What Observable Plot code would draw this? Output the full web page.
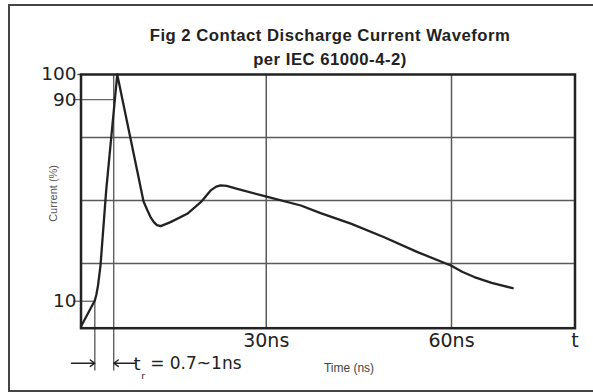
<!DOCTYPE html>
<html>
<head>
<meta charset="utf-8">
<script src="https://cdn.jsdelivr.net/npm/d3@7"></script>
<script src="https://cdn.jsdelivr.net/npm/@observablehq/plot@0.6"></script>
<style>
  html, body { margin: 0; padding: 0; background: #fff; overflow: hidden; }
  #page { position: relative; width: 593px; height: 392px; }
  #border { position: absolute; left: 8px; top: 4px; width: 600px; height: 384px;
            border-top: 2px solid #444; border-left: 2px solid #444; border-bottom: 2px solid #444; }
  #title { position: absolute; left: 67px; top: 24px; width: 526px; text-align: center;
           font-family: "Liberation Sans", Arial, sans-serif; font-weight: bold; font-size: 16.7px;
           letter-spacing: 0.5px; line-height: 23.5px; color: #222; }
  #chart { position: absolute; left: 0; top: 60px; }
  #chart svg { overflow: visible; }
</style>
</head>
<body>
<div id="page">
  <div id="border"></div>
  <div id="title">Fig 2 Contact Discharge Current Waveform<br>per IEC 61000-4-2)</div>
  <div id="chart"></div>
</div>
<script>
// waveform (time in ns, current in % of peak)
const timeNs = [0, 2.24, 2.5, 2.76, 3.16, 4.08, 5.87, 9.05, 10.13, 10.8, 11.26, 11.8, 12.3, 12.9, 14.5, 17.2, 19.4, 21.0, 21.9, 22.6, 23.6, 25.3, 29.9, 35.6, 38.8, 43.7, 49.1, 54.5, 59.9, 61.8, 63.7, 66.5, 69.9];
const currentPct = [0, 10.3, 12.8, 16.3, 24.2, 54, 100, 62.4, 49.6, 45.8, 43.4, 41.4, 40.2, 39.8, 41.4, 44.7, 49.3, 54, 55.5, 56, 55.8, 54.6, 51.6, 48, 45, 40.8, 35.4, 29.5, 24.2, 21.6, 19.6, 17.3, 15.2];

const gridTimes = [30, 60];
const gridLevels = [25, 50, 75];
const yTickValues = [10, 90, 100];
const xTickValues = [30, 60, 80];
const xTickLabels = ["30ns", "60ns", "t"];
const levelMarks = [10, 90];          // 10% and 90% reference levels
const levelTimes = [2.24, 5.3];       // times of 10% and 90% markers (ns)
const yLabel = "Current (%)";
const xLabel = "Time (ns)";
const riseLabel = "= 0.7~1ns";

const wave = timeNs.map((t, i) => ({t, v: currentPct[i]}));
const levels = levelMarks.map((v, i) => ({v, t: levelTimes[i]}));

const lineColor = "#222";
const gridColor = "#5a5a5a";
const yMin = -0.7, yMax = 100, xMax = 80;
const below = -17.7;       // how far the marker lines drop under the axis
const arrowY = -14.6;

const chart = Plot.plot({
  width: 593,
  height: 332,
  marginTop: 14,
  marginBottom: 64.3,
  marginLeft: 80.5,
  marginRight: 18.5,
  x: {domain: [0, xMax], axis: null},
  y: {domain: [yMin, yMax], axis: null},
  style: {fontFamily: "DejaVu Sans, sans-serif", color: "#222", background: "transparent"},
  marks: [
    Plot.ruleX(gridTimes, {y1: yMin, y2: yMax, stroke: gridColor, strokeWidth: 1.5}),
    Plot.ruleY(gridLevels, {x1: 0, x2: xMax, stroke: gridColor, strokeWidth: 1.5}),
    Plot.ruleY(levels, {y: "v", x1: -1.2, x2: "t", stroke: "#666", strokeWidth: 1.3}),
    Plot.ruleX(levels, {x: "t", y1: d => d.v === 90 ? yMax : d.v, y2: below, stroke: "#555", strokeWidth: 1.3}),
    Plot.ruleY([yMax], {x1: -0.5, x2: 0, stroke: "#444", strokeWidth: 1.3}),
    Plot.frame({stroke: lineColor, strokeWidth: 2.5}),
    Plot.line(wave, {x: "t", y: "v", curve: "linear", stroke: lineColor, strokeWidth: 2.3, strokeLinejoin: "round"}),
    // rise-time arrows
    Plot.arrow([{x1: -1.55, x2: levelTimes[0]}, {x1: 8.83, x2: levelTimes[1]}],
      {x1: "x1", x2: "x2", y1: arrowY, y2: arrowY, stroke: lineColor, strokeWidth: 1.4, headLength: 6, headAngle: 70}),
    // tick labels
    Plot.text(yTickValues, {x: 0, y: d => d, text: d => String(d), textAnchor: "end", dx: -4.5,
      fontSize: 18.5, fill: "#222"}),
    Plot.text(xTickValues, {x: d => d, y: yMin, text: d => xTickLabels[xTickValues.indexOf(d)],
      dy: 12.5, fontSize: 19, fill: "#222"}),
    // axis titles
    Plot.text([yLabel], {x: -4.46, y: 52.8, text: d => d, rotate: -90, fontSize: 11,
      fill: "#555", fontFamily: "Liberation Sans, Arial, sans-serif"}),
    Plot.text([xLabel], {x: 43.4, y: -16.7, text: d => d, fontSize: 12, fill: "#444",
      fontFamily: "Liberation Sans, Arial, sans-serif"}),
    // rise time label t_r = 0.7~1ns
    Plot.text(["t"], {x: 8.5, y: -14.9, text: d => d, textAnchor: "start", fontSize: 18, fill: "#222"}),
    Plot.text(["r"], {x: 9.75, y: -19.8, text: d => d, textAnchor: "start", fontSize: 9.5, fill: "#222"}),
    Plot.text([riseLabel], {x: 11.2, y: -14.9, text: d => d, textAnchor: "start", fontSize: 17, fill: "#222"})
  ]
});
document.getElementById("chart").appendChild(chart);
</script>
</body>
</html>
